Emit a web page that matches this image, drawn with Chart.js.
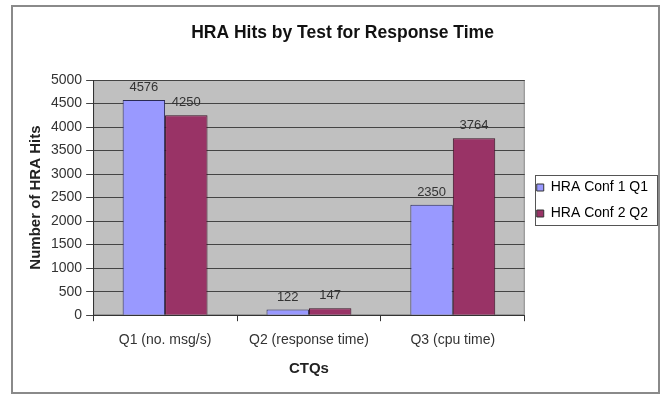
<!DOCTYPE html>
<html>
<head>
<meta charset="utf-8">
<script src="https://cdn.jsdelivr.net/npm/chart.js@4"></script>
<style>
  html, body { margin: 0; padding: 0; background: #fff; }
  canvas { display: block; }
</style>
</head>
<body>
<canvas id="c" width="667" height="397"></canvas>
<script>
const categories = ["Q1 (no. msg/s)", "Q2 (response time)", "Q3 (cpu time)"];
const seriesNames = ["HRA Conf 1 Q1", "HRA Conf 2 Q2"];
const conf1Values = [4576, 122, 2350];
const conf2Values = [4250, 147, 3764];
const yTicks = [0, 500, 1000, 1500, 2000, 2500, 3000, 3500, 4000, 4500, 5000];

const FONT = "'Liberation Sans', Arial, sans-serif";

const framePlugin = {
  id: 'frame',
  beforeDraw(chart) {
    const ctx = chart.ctx;
    const a = chart.chartArea;
    ctx.save();
    ctx.fillStyle = '#fff';
    ctx.fillRect(0, 0, chart.width, chart.height);
    ctx.strokeStyle = '#8a8a8a';
    ctx.lineWidth = 2;
    ctx.strokeRect(12, 6, 647, 387);
    ctx.fillStyle = '#c0c0c0';
    ctx.fillRect(a.left, a.top, a.right - a.left, a.bottom - a.top);
    ctx.strokeStyle = '#8c8c8c';
    ctx.lineWidth = 1;
    ctx.strokeRect(a.left + 0.5, a.top + 0.5, a.right - a.left - 1, a.bottom - a.top - 1);
    ctx.restore();
  },
  afterDraw(chart) {
    const ctx = chart.ctx;
    const lg = chart.legend;
    if (lg && lg.legendHitBoxes && lg.legendHitBoxes.length) {
      const boxes = lg.legendHitBoxes;
      let l = Infinity, t = Infinity, r = -Infinity, b = -Infinity;
      boxes.forEach(h => { l = Math.min(l, h.left); t = Math.min(t, h.top); r = Math.max(r, h.left + h.width); b = Math.max(b, h.top + h.height); });
      ctx.save();
      ctx.strokeStyle = '#555';
      ctx.lineWidth = 1;
      const bl = Math.round(l - 2), bt = Math.round(t - 6), br = Math.round(r + 9), bb = Math.round(b + 4);
      ctx.strokeRect(bl + 0.5, bt + 0.5, br - bl, bb - bt);
      ctx.restore();
    }
    ctx.save();
    ctx.font = "13px " + FONT;
    ctx.fillStyle = '#333';
    ctx.textAlign = 'center';
    ctx.textBaseline = 'bottom';
    chart.data.datasets.forEach((ds, i) => {
      const meta = chart.getDatasetMeta(i);
      meta.data.forEach((bar, j) => {
        ctx.fillText(String(ds.data[j]), bar.x, bar.y - 6);
      });
    });
    ctx.restore();
  }
};

new Chart(document.getElementById('c'), {
  type: 'bar',
  data: {
    labels: categories,
    datasets: [
      { label: seriesNames[0], data: conf1Values, backgroundColor: '#9999ff', borderColor: '#2a2a55', borderWidth: 1 },
      { label: seriesNames[1], data: conf2Values, backgroundColor: '#993366', borderColor: '#3a1024', borderWidth: 1 }
    ]
  },
  options: {
    responsive: false,
    animation: false,
    devicePixelRatio: 1,
    layout: { padding: { left: 27, right: 9, top: 23, bottom: 19 } },
    datasets: { bar: { categoryPercentage: 0.59, barPercentage: 1.0 } },
    plugins: {
      title: {
        display: true,
        text: 'HRA Hits by Test for Response Time',
        color: '#111',
        font: { family: FONT, size: 17.5, weight: 'bold' },
        padding: { top: 0, bottom: 36 }
      },
      legend: {
        display: true,
        position: 'right',
        labels: {
          color: '#222',
          font: { family: FONT, size: 14 },
          boxWidth: 7,
          boxHeight: 7,
          padding: 12,
          generateLabels(chart) {
            return chart.data.datasets.map((ds, i) => ({
              text: ds.label, fillStyle: ds.backgroundColor, strokeStyle: '#333', lineWidth: 1, datasetIndex: i
            }));
          }
        }
      },
      tooltip: { enabled: false }
    },
    scales: {
      x: {
        offset: true,
        grid: { display: true, drawOnChartArea: false, offset: true, color: '#333', tickLength: 6 },
        border: { display: true, color: '#333', width: 1 },
        ticks: { color: '#333', font: { family: FONT, size: 14 }, padding: 11 },
        title: { display: true, text: 'CTQs', color: '#222', font: { family: FONT, size: 15, weight: 'bold' }, padding: { top: 0, bottom: 0 } }
      },
      y: {
        min: 0,
        max: 5000,
        afterBuildTicks(axis) { axis.ticks = yTicks.map(v => ({ value: v })); },
        grid: { color: '#444', lineWidth: 1, tickLength: 7 },
        border: { display: true, color: '#333', width: 1 },
        ticks: { color: '#333', font: { family: FONT, size: 14 }, padding: 4, callback: v => String(v) },
        title: { display: true, text: 'Number of HRA Hits', color: '#222', font: { family: FONT, size: 15, weight: 'bold' }, padding: { top: 0, bottom: 2 } }
      }
    }
  },
  plugins: [framePlugin]
});
</script>
</body>
</html>
